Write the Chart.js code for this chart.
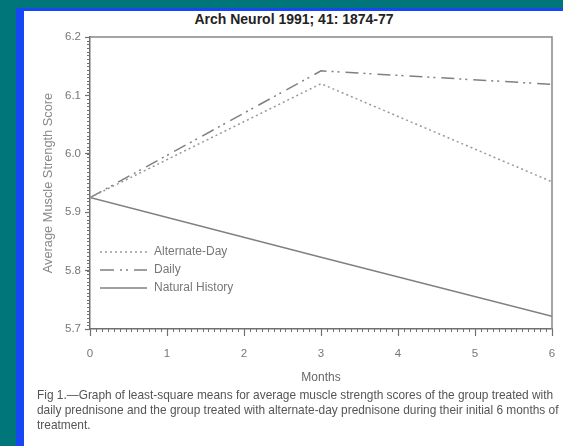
<!DOCTYPE html>
<html>
<head>
<meta charset="utf-8">
<script src="https://cdn.jsdelivr.net/npm/chart.js@4"></script>
<style>
html, body { margin: 0; padding: 0; }
body {
	width: 563px; height: 446px; overflow: hidden; position: relative;
	background: #00767a;
	font-family: "Liberation Sans", Arial, sans-serif;
}
#panel {
	position: absolute; left: 16px; top: 8px; width: 620px; height: 520px;
	background: #fff;
	border-left: 8px solid #1747f5; border-top: 3px solid #1747f5;
}
#title {
	position: absolute; left: 0; top: 11px; width: 588px;
	text-align: center; font-weight: bold; font-size: 14px; line-height: 16px; color: #222;
}
#my-chart { position: absolute; left: 0; top: 0; }
#caption {
	position: absolute; left: 37px; top: 388px; white-space: nowrap;
	font-size: 11.9px; line-height: 14.8px; color: #555;
}
</style>
</head>
<body>
<div id="panel"></div>
<div id="title">Arch Neurol 1991; 41: 1874-77</div>
<canvas id="my-chart" width="563" height="390"></canvas>
<div id="caption">Fig 1.—Graph of least-square means for average muscle strength scores of the group treated with<br>daily prednisone and the group treated with alternate-day prednisone during their initial 6 months of<br>treatment.</div>
<script>
//Data
const months = [0, 3, 6];
const alternateDay = [5.925, 6.12, 5.952];
const daily = [5.925, 6.142, 6.119];
const naturalHistory = [5.925, 5.823, 5.722];

const xTicks = [0, 1, 2, 3, 4, 5, 6];
const yTicks = [5.7, 5.8, 5.9, 6.0, 6.1, 6.2];

const grey = "#707070";

function points(values) {
	return months.map((m, i) => ({ x: m, y: values[i] }));
}

// minor ticks along the bottom and left axes
const minorTicks = {
	id: "minorTicks",
	afterDraw(chart) {
		const { ctx, scales: { x, y } } = chart;
		ctx.save();
		ctx.strokeStyle = grey;
		ctx.lineWidth = 1;
		ctx.beginPath();
		for (let i = 0; i <= 6 * 13; i++) {
			const px = Math.round(x.getPixelForValue(i / 13)) + 0.5;
			ctx.moveTo(px, y.bottom);
			ctx.lineTo(px, y.bottom + 3);
		}
		for (let i = 0; i <= 5 * 16; i++) {
			const py = Math.round(y.getPixelForValue(5.7 + i * 0.1 / 16)) + 0.5;
			ctx.moveTo(x.left - 3, py);
			ctx.lineTo(x.left, py);
		}
		ctx.stroke();
		ctx.restore();
	},
};

// top and right side of the frame
const frame = {
	id: "frame",
	beforeDatasetsDraw(chart) {
		const { ctx, chartArea: a } = chart;
		ctx.save();
		ctx.strokeStyle = "#888";
		ctx.lineWidth = 1.5;
		ctx.beginPath();
		ctx.moveTo(a.left, a.top);
		ctx.lineTo(a.right, a.top);
		ctx.lineTo(a.right, a.bottom);
		ctx.stroke();
		ctx.restore();
	},
};

// legend drawn inside the plot
const innerLegend = {
	id: "innerLegend",
	afterDatasetsDraw(chart) {
		const { ctx, chartArea: a } = chart;
		ctx.save();
		ctx.font = '12px "Liberation Sans", Arial, sans-serif';
		ctx.textBaseline = "middle";
		chart.data.datasets.forEach((ds, i) => {
			const ly = a.top + 215 + i * 18;
			ctx.strokeStyle = ds.borderColor;
			ctx.lineWidth = ds.borderWidth;
			ctx.setLineDash(ds.legendDash || ds.borderDash || []);
			ctx.beginPath();
			ctx.moveTo(a.left + 10, ly);
			ctx.lineTo(a.left + 57, ly);
			ctx.stroke();
			ctx.setLineDash([]);
			ctx.fillStyle = "#777";
			ctx.fillText(ds.label, a.left + 64, ly);
		});
		ctx.restore();
	},
};

const ctx = document.getElementById("my-chart").getContext("2d");

const data = {
	datasets: [
		{
			label: "Alternate-Day",
			data: points(alternateDay),
			borderColor: "#999",
			borderWidth: 1.5,
			borderDash: [2, 3],
		},
		{
			label: "Daily",
			data: points(daily),
			borderColor: "#808080",
			borderWidth: 1.5,
			borderDash: [13, 5, 2, 4, 2, 6],
			legendDash: [14, 6, 2, 4, 2, 6],
		},
		{
			label: "Natural History",
			data: points(naturalHistory),
			borderColor: "#808080",
			borderWidth: 1.5,
		},
	],
};

const config = {
	type: "line",
	data: data,
	options: {
		responsive: false,
		animation: false,
		layout: { padding: { left: 37, top: 37, right: 11, bottom: 0 } },
		elements: { point: { radius: 0 }, line: { tension: 0 } },
		plugins: {
			legend: { display: false },
			tooltip: { enabled: false },
		},
		scales: {
			x: {
				type: "linear",
				min: 0,
				max: 6,
				afterBuildTicks: (scale) => { scale.ticks = xTicks.map((v) => ({ value: v })); },
				afterFit: (scale) => {
					scale.height = 61;
					scale.paddingLeft = 4;
					scale.paddingRight = 4;
				},
				border: { color: grey, width: 1.5 },
				grid: { drawOnChartArea: false, tickLength: 7, color: grey, tickWidth: 1.2 },
				ticks: { color: "#777", padding: 11, font: { size: 11.5, family: '"Liberation Sans", Arial' } },
				title: {
					display: true,
					text: "Months",
					color: "#666",
					padding: { top: 0, bottom: 5 },
					font: { size: 12, family: '"Liberation Sans", Arial' },
				},
			},
			y: {
				min: 5.7,
				max: 6.2,
				afterBuildTicks: (scale) => { scale.ticks = yTicks.map((v) => ({ value: v })); },
				afterFit: (scale) => { scale.width = 53; },
				border: { color: grey, width: 1.5 },
				grid: { drawOnChartArea: false, tickLength: 5, color: grey, tickWidth: 1.2 },
				ticks: {
					color: "#777",
					padding: 4,
					font: { size: 11.5, family: '"Liberation Sans", Arial' },
					callback: (v) => Number(v).toFixed(1),
				},
				title: {
					display: true,
					text: "Average Muscle Strength Score",
					color: "#888",
					padding: { top: 4, bottom: 0 },
					font: { size: 12.8, family: '"Liberation Sans", Arial' },
				},
			},
		},
	},
	plugins: [frame, minorTicks, innerLegend],
};

new Chart(ctx, config);
</script>
</body>
</html>
